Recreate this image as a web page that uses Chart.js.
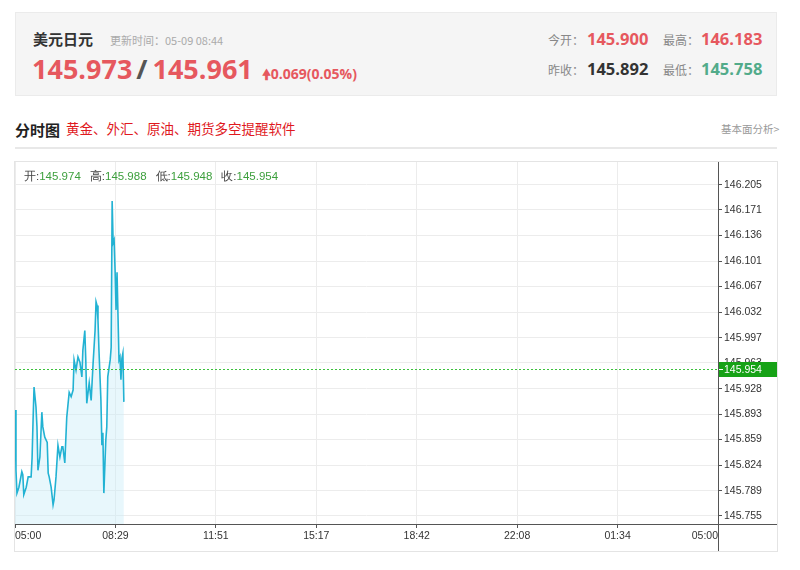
<!DOCTYPE html>
<html>
<head>
<meta charset="utf-8">
<script src="https://cdn.jsdelivr.net/npm/chart.js@4/dist/chart.umd.min.js"></script>
<style>
    body { margin: 0; background: #fff; width: 800px; height: 570px; position: relative; overflow: hidden;
        font-family: "Open Sans", "Noto Sans CJK SC", sans-serif; }
    .abs { position: absolute; white-space: nowrap; line-height: 1; }
    .panel { position: absolute; left: 15px; top: 12px; width: 762px; height: 84px; background: #f5f5f5;
        border: 1px solid #ebebeb; box-sizing: border-box; }
    .red { color: #e6585e; }
    .lbl { color: #888; font-size: 12px; }
    .chartBox { position: absolute; left: 14px; top: 161px; width: 764px; height: 391px; border: 1px solid #e4e4e4;
        box-sizing: border-box; }
    .ohlc { position: absolute; left: 24px; top: 169px; font-family: "Liberation Sans", sans-serif; font-size: 11.5px;
        color: #444; white-space: nowrap; }
    .ohlc b { font-weight: normal; color: #3c9f3c; margin-right: 9px; }
</style>
</head>
<body>
<div class="panel"></div>
<div class="abs" style="left:33px;top:31px;font-size:15px;font-weight:bold;color:#333;font-family:'Noto Sans CJK SC',sans-serif">美元日元</div>
<div class="abs" style="left:110px;top:35px;font-size:11px;color:#aaa;font-family:'Noto Sans CJK SC',sans-serif">更新时间：05-09 08:44</div>
<div class="abs" style="left:32px;top:55px;font-size:27px;font-weight:bold">
    <span class="red">145.973</span><span style="color:#555;margin:0 5px 0 4px">/</span><span class="red">145.961</span>
    <span class="red" style="font-size:14px;font-weight:bold;margin-left:2px">&#x1F81D;0.069(0.05%)</span>
</div>
<div class="abs lbl" style="left:548px;top:34px;font-family:'Noto Sans CJK SC',sans-serif">今开：</div>
<div class="abs red" style="left:587px;top:31px;font-size:16.5px;font-weight:bold">145.900</div>
<div class="abs lbl" style="left:663px;top:34px;font-family:'Noto Sans CJK SC',sans-serif">最高：</div>
<div class="abs red" style="left:701px;top:31px;font-size:16.5px;font-weight:bold">146.183</div>
<div class="abs lbl" style="left:548px;top:64px;font-family:'Noto Sans CJK SC',sans-serif">昨收：</div>
<div class="abs" style="left:587px;top:61px;font-size:16.5px;font-weight:bold;color:#333">145.892</div>
<div class="abs lbl" style="left:663px;top:64px;font-family:'Noto Sans CJK SC',sans-serif">最低：</div>
<div class="abs" style="left:701px;top:61px;font-size:16.5px;font-weight:bold;color:#52ab8a">145.758</div>

<div class="abs" style="left:15px;top:122px;font-size:15px;font-weight:bold;color:#222;font-family:'Noto Sans CJK SC',sans-serif">分时图</div>
<div class="abs" style="left:66px;top:122px;font-size:13.5px;color:#e0191e;font-family:'Noto Sans CJK SC',sans-serif">黄金、外汇、原油、期货多空提醒软件</div>
<div class="abs" style="left:721px;top:124px;font-size:10.5px;color:#999;font-family:'Noto Sans CJK SC',sans-serif">基本面分析&gt;</div>
<div style="position:absolute;left:15px;top:147px;width:762px;height:2px;background:#e8e8e8"></div>

<div class="chartBox"><canvas id="myChart" width="762" height="389"></canvas></div>
<div class="ohlc">开:<b>145.974</b>高:<b>145.988</b>低:<b>145.948</b>收:<b>145.954</b></div>

<script>
// подписи времени по оси X и их положение в минутах от 05:00
const timeLabels = ['05:00', '08:29', '11:51', '15:17', '18:42', '22:08', '01:34', '05:00'];
const tickMinutes = [0, 205.7, 411.4, 617.1, 822.9, 1028.6, 1234.3, 1440];
// подписи цены справа
const priceTicks = ['146.205', '146.171', '146.136', '146.101', '146.067', '146.032', '145.997',
    '145.963', '145.928', '145.893', '145.859', '145.824', '145.789', '145.755'];
// минуты от начала торговой сессии и цена
const minutes = [0, 2, 4, 8, 14, 16, 18, 23, 27, 33, 35, 37, 39, 43, 45, 47, 51, 55, 57, 61,
    66, 68, 70, 74, 78, 80, 84, 88, 92, 96, 98, 102, 106, 111, 115, 119, 121, 125, 129, 133,
    137, 139, 143, 145, 147, 152, 156, 160, 164, 166, 168, 170, 172, 176, 178, 180, 182, 186, 188, 190,
    195, 197, 199, 201, 203, 205, 207, 209, 213, 215, 217, 219, 221, 223];
const prices = [145.899, 145.817, 145.786, 145.794, 145.815, 145.811, 145.784, 145.794, 145.808, 145.808,
    145.834, 145.885, 145.930, 145.903, 145.876, 145.817, 145.835, 145.896, 145.876, 145.862,
    145.855, 145.813, 145.808, 145.794, 145.770, 145.777, 145.808, 145.851, 145.835, 145.849,
    145.849, 145.827, 145.889, 145.923, 145.917, 145.926, 145.967, 145.953, 145.971, 145.964,
    145.944, 145.980, 146.007, 145.967, 145.908, 145.936, 145.912, 145.963, 146.007, 146.046,
    146.041, 146.021, 145.980, 145.912, 145.851, 145.868, 145.786, 145.858, 145.876, 145.944,
    145.967, 145.984, 146.183, 146.126, 146.130, 146.089, 146.035, 146.086, 145.967, 145.971,
    145.940, 145.969, 145.976, 145.910];
const lastPrice = 145.954;
const yMin = 145.744;
const yMax = 146.236;

const axisFont = { family: 'Liberation Sans', size: 10.5 };

// пунктир последней цены, зелёная метка и продолжение осей до рамки
const lastPricePlugin = {
    id: 'lastPrice',
    afterDatasetsDraw(chart) {
        const ctx = chart.ctx;
        const area = chart.chartArea;
        const y = Math.round(chart.scales.y.getPixelForValue(lastPrice)) + 0.5;
        ctx.save();
        ctx.strokeStyle = '#3cc23c';
        ctx.lineWidth = 1;
        ctx.setLineDash([2, 2]);
        ctx.beginPath();
        ctx.moveTo(area.left, y);
        ctx.lineTo(area.right, y);
        ctx.stroke();
        ctx.restore();
    },
    afterDraw(chart) {
        const ctx = chart.ctx;
        const area = chart.chartArea;
        const y = Math.round(chart.scales.y.getPixelForValue(lastPrice));
        ctx.save();
        ctx.strokeStyle = '#555';
        ctx.lineWidth = 1;
        ctx.beginPath();
        ctx.moveTo(area.right + 0.5, area.bottom);
        ctx.lineTo(area.right + 0.5, chart.height);
        ctx.moveTo(area.right, area.bottom + 0.5);
        ctx.lineTo(chart.width, area.bottom + 0.5);
        ctx.stroke();

        ctx.fillStyle = '#16a216';
        ctx.fillRect(area.right + 1, y - 7, chart.width - area.right - 1, 15);
        ctx.strokeStyle = '#fff';
        ctx.beginPath();
        ctx.moveTo(area.right + 1, y + 0.5);
        ctx.lineTo(area.right + 5, y + 0.5);
        ctx.stroke();
        ctx.fillStyle = '#fff';
        ctx.font = '10.5px "Liberation Sans"';
        ctx.textBaseline = 'middle';
        ctx.fillText(lastPrice.toFixed(3), area.right + 6, y + 1);
        ctx.restore();
    }
};

const ctx = document.getElementById('myChart').getContext('2d');
const myChart = new Chart(ctx, {
    type: 'line',
    data: {
        datasets: [{
            data: minutes.map((m, i) => ({ x: m, y: prices[i] })),
            borderColor: '#22b2d3',
            borderWidth: 1.6,
            backgroundColor: 'rgba(205, 238, 248, 0.45)',
            fill: 'start',
            pointRadius: 0,
            tension: 0
        }]
    },
    options: {
        responsive: false,
        animation: false,
        devicePixelRatio: 1,
        layout: { padding: 0 },
        plugins: { legend: { display: false }, tooltip: { enabled: false } },
        scales: {
            x: {
                type: 'linear',
                min: 0,
                max: 1440,
                afterBuildTicks: scale => { scale.ticks = tickMinutes.map(v => ({ value: v })); },
                afterFit: scale => { scale.height = 27; scale.paddingLeft = 0; scale.paddingRight = 0; },
                ticks: {
                    align: 'inner',
                    maxRotation: 0,
                    autoSkip: false,
                    color: '#333',
                    font: axisFont,
                    padding: 2,
                    callback: (v, i) => timeLabels[i]
                },
                grid: { color: '#ececec', tickColor: '#555', tickLength: 4 },
                border: { color: '#555' }
            },
            y: {
                position: 'right',
                min: yMin,
                max: yMax,
                afterBuildTicks: scale => { scale.ticks = priceTicks.map(t => ({ value: parseFloat(t) })); },
                afterFit: scale => { scale.width = 59; scale.paddingTop = 0; scale.paddingBottom = 0; },
                ticks: {
                    color: '#333',
                    font: axisFont,
                    padding: 2,
                    autoSkip: false,
                    callback: (v, i) => priceTicks[i]
                },
                grid: { color: '#ececec', tickColor: '#555', tickLength: 4 },
                border: { color: '#555' }
            }
        }
    },
    plugins: [lastPricePlugin]
});
</script>
</body>
</html>
